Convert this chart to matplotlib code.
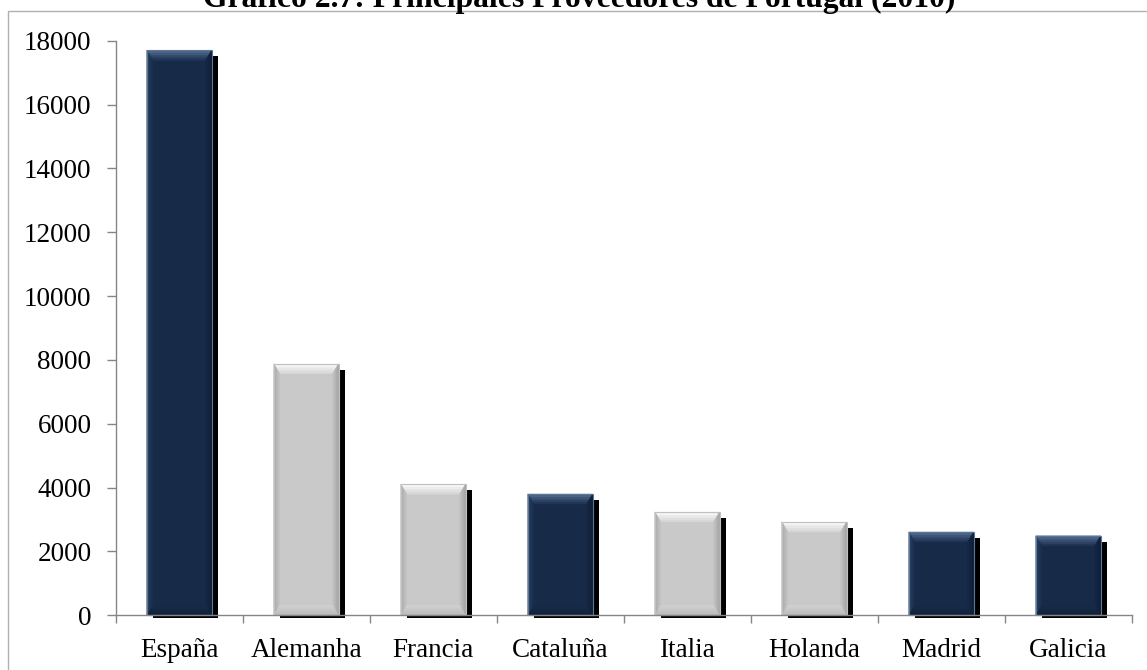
import matplotlib
matplotlib.use("Agg")
import matplotlib.pyplot as plt
import matplotlib.colors as mcolors
import numpy as np
from matplotlib.patches import Polygon, Rectangle

# Data
categories = ["España", "Alemanha", "Francia", "Cataluña", "Italia", "Holanda", "Madrid", "Galicia"]
values = [17700, 7880, 4110, 3800, 3240, 2930, 2610, 2490]
bar_style = ["dark", "light", "light", "dark", "light", "light", "dark", "dark"]
y_ticks = [0, 2000, 4000, 6000, 8000, 10000, 12000, 14000, 16000, 18000]
title = "Gráfico 2.7: Principales Proveedores de Portugal (2010)"

W, H = 1147, 670
fig = plt.figure(figsize=(W / 100, H / 100), dpi=100)
fig.patch.set_facecolor("white")

# outer chart frame
fig.add_artist(Rectangle((8 / W, -0.05), (W + 20) / W, (H - 10.7) / H + 0.05,
                         transform=fig.transFigure, fill=False,
                         edgecolor="#b0b0b0", linewidth=1.0))

ax_l, ax_r, ax_b, ax_t = 115.7, 1131.7, 54.7, 629.3
ax = fig.add_axes([ax_l / W, ax_b / H, (ax_r - ax_l) / W, (ax_t - ax_b) / H])
ax.set_xlim(0, len(categories))
ax.set_ylim(0, 18000)

# pixel -> data conversion
px_x = len(categories) / (ax_r - ax_l)
px_y = 18000 / (ax_t - ax_b)

palette = {
    "dark": dict(face="#172a48", top=("#5a7497", "#1c3152"), left=("#2a4468", "#1a2e4d"),
                 right=("#0e1d34", "#152846"), bottom=("#10203a", "#182c4a"), edge="#5d7596"),
    "light": dict(face="#c9c9c9", top=("#ffffff", "#d6d6d6"), left=("#a6a6a6", "#c6c6c6"),
                  right=("#9e9e9e", "#c4c4c4"), bottom=("#b8b8b8", "#d2d2d2"), edge="#c0c0c0"),
}

bw = 0.51
bev_t = 10 * px_y
bev_b = 10 * px_y
bev_s = 6 * px_x
sh_dx = 6 * px_x
sh_dy = 6 * px_y
sh_below = 2.5 * px_y
N = 6


def lerp(p, q, t):
    return (p[0] + (q[0] - p[0]) * t, p[1] + (q[1] - p[1]) * t)


def bevel_face(outer_a, outer_b, inner_b, inner_a, colors):
    """Draw a trapezoid face shaded from the outer edge to the inner edge."""
    c0 = np.array(mcolors.to_rgb(colors[0]))
    c1 = np.array(mcolors.to_rgb(colors[1]))
    for k in range(N):
        t0, t1 = k / N, (k + 1) / N
        pts = [lerp(outer_a, inner_a, t0), lerp(outer_b, inner_b, t0),
               lerp(outer_b, inner_b, t1), lerp(outer_a, inner_a, t1)]
        col = c0 + (c1 - c0) * ((k + 0.5) / N)
        ax.add_patch(Polygon(pts, closed=True, facecolor=col, edgecolor=col,
                             linewidth=0.3, zorder=4, clip_on=False))


for i, (v, st) in enumerate(zip(values, bar_style)):
    c = palette[st]
    x0 = i + 0.5 - bw / 2
    x1 = x0 + bw
    # drop shadow
    ax.add_patch(Rectangle((x0 + sh_dx, -sh_below), bw, v - sh_dy + sh_below,
                           facecolor="black", edgecolor="none", zorder=2, clip_on=False))
    # bar body
    ax.add_patch(Rectangle((x0, 0), bw, v, facecolor=c["face"], edgecolor="none",
                           zorder=3, clip_on=False))
    ix0, ix1 = x0 + bev_s, x1 - bev_s
    it, ib = v - bev_t, bev_b
    bevel_face((x0, v), (x1, v), (ix1, it), (ix0, it), c["top"])
    bevel_face((x0, 0), (x0, v), (ix0, it), (ix0, ib), c["left"])
    bevel_face((x1, 0), (x1, v), (ix1, it), (ix1, ib), c["right"])
    bevel_face((x0, 0), (x1, 0), (ix1, ib), (ix0, ib), c["bottom"])
    ax.add_patch(Rectangle((x0, 0), bw, v, facecolor="none", edgecolor=c["edge"],
                           linewidth=0.8, zorder=5, clip_on=False))

# axes styling
for side in ["top", "right"]:
    ax.spines[side].set_visible(False)
for side in ["left", "bottom"]:
    ax.spines[side].set_color("#868686")
    ax.spines[side].set_linewidth(1.0)
    ax.spines[side].set_zorder(6)

font = "Liberation Serif"
ax.set_yticks(y_ticks)
ax.set_yticklabels([str(t) for t in y_ticks], fontfamily=font, fontsize=19.5)
ax.tick_params(axis="y", direction="out", length=6.5, width=1.0, color="#868686", pad=11)

ax.set_xticks(range(len(categories) + 1), minor=False)
ax.set_xticklabels([""] * (len(categories) + 1))
ax.tick_params(axis="x", direction="out", length=6, width=1.0, color="#868686")
ax.set_xticks([i + 0.5 for i in range(len(categories))], minor=True)
ax.set_xticklabels(categories, minor=True, fontfamily=font, fontsize=19.5)
ax.tick_params(axis="x", which="minor", length=0, pad=16)

fig.text(579 / W, (H - 7.5) / H, title, ha="center", va="baseline",
         fontfamily=font, fontweight="bold", fontsize=22.8)

fig.savefig("out.png", dpi=100)
